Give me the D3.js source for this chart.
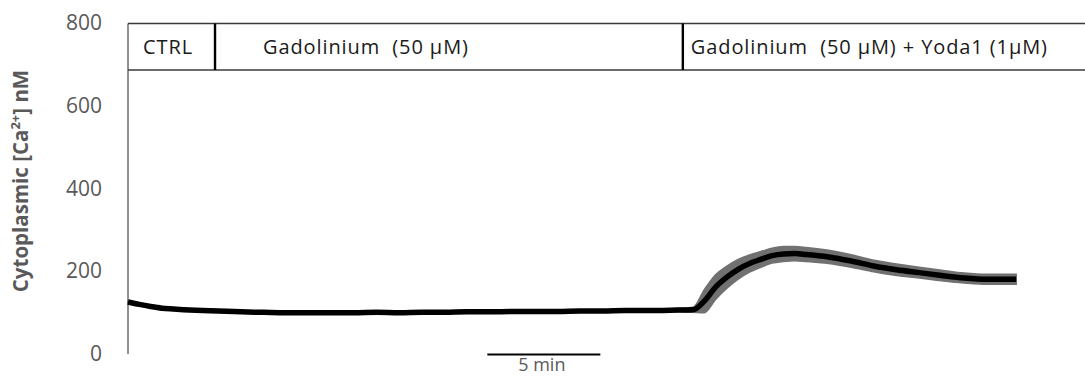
<!DOCTYPE html>
<html>
<head>
<meta charset="utf-8">
<script src="https://cdn.jsdelivr.net/npm/d3@7/dist/d3.min.js"></script>
<style>
  body { margin: 0; background: #fff; }
  svg { display: block; font-family: "Open Sans", sans-serif; }
</style>
</head>
<body>
<svg id="chart" width="1085" height="376"></svg>
<script>
// Recording time (min) and mean cytoplasmic Ca2+ (nM) with its SEM
const timeMin = [0, 0.5, 1, 1.5, 2, 3, 4, 5, 6, 7, 8, 9, 10, 11, 12, 13, 14, 15, 16,
  17, 18, 19, 20, 21, 22, 23, 24, 25, 25.5, 26, 26.5, 27, 27.5, 28, 28.5, 29, 29.5,
  30, 31, 32, 33, 34, 35, 36, 37, 38, 39, 39.3];
const calcium = [126, 120, 115, 111, 109, 106, 104, 102, 101, 100, 100, 100, 100, 101, 100, 101, 101, 102, 102,
  103, 103, 103, 104, 104, 105, 105, 106, 107, 128, 162, 186, 205, 219, 229, 238, 242, 243,
  241, 235, 225, 213, 204, 197, 190, 184, 181, 181, 181];
const calciumSem = [3, 3, 3, 3, 3, 3, 3, 3, 3, 3, 3, 3, 3, 3, 3, 3, 3, 3, 3,
  3, 3, 3, 3, 3, 3, 3, 3, 6, 28, 30, 27, 24, 21, 19, 18, 18, 17,
  17, 16, 15, 14, 14, 13, 13, 12, 12, 12, 12];

// Treatment periods (start time in min)
const phaseLabels = ["CTRL", "Gadolinium\u00a0\u00a0(50 \u00b5M)", "Gadolinium\u00a0\u00a0(50 \u00b5M) + Yoda1 (1\u00b5M)"];
const phaseStart = [0, 3.85, 24.55];

const yTicks = [0, 200, 400, 600, 800];
const scaleBarStart = 15.9;
const scaleBarLength = 5;   // min

const svg = d3.select("#chart");
const W = 1085;

const x = d3.scaleLinear().domain([0, 42.3]).range([128, 1084]);
const y = d3.scaleLinear().domain([0, 800]).range([354, 23.5]);

const grey = "#595959";

// y axis: line plus labels, no tick marks
svg.append("line")
  .attr("x1", x(0)).attr("x2", x(0))
  .attr("y1", y(0)).attr("y2", y(800))
  .attr("stroke", "#222").attr("stroke-width", 1);

svg.append("g").selectAll("text").data(yTicks).join("text")
  .attr("x", 102)
  .attr("y", d => y(d))
  .attr("dy", "0.33em")
  .attr("text-anchor", "end")
  .attr("font-size", 21)
  .attr("fill", grey)
  .text(d => d);

// y axis title
const yt = svg.append("text")
  .attr("transform", "translate(28,181) rotate(-90)")
  .attr("text-anchor", "middle")
  .attr("font-size", 20.5)
  .attr("font-weight", "bold")
  .attr("fill", grey);
yt.append("tspan").text("Cytoplasmic [Ca");
yt.append("tspan").attr("font-size", 13).attr("dy", -8).text("2+");
yt.append("tspan").attr("dy", 8).text("] nM");

// treatment header band
const bandTop = y(800), bandBottom = 70;
svg.append("g").selectAll("line").data([bandTop, bandBottom]).join("line")
  .attr("x1", x(0)).attr("x2", W)
  .attr("y1", d => d).attr("y2", d => d)
  .attr("stroke", "#3a3a3a").attr("stroke-width", 1.6);

svg.append("g").selectAll("line").data(phaseStart.slice(1)).join("line")
  .attr("x1", d => x(d)).attr("x2", d => x(d))
  .attr("y1", bandTop).attr("y2", bandBottom)
  .attr("stroke", "#000").attr("stroke-width", 2.4);

const labelPad = [15, 48, 8];
svg.append("g").selectAll("text").data(phaseLabels).join("text")
  .attr("x", (d, i) => x(phaseStart[i]) + labelPad[i])
  .attr("y", 54)
  .attr("font-size", 20)
  .attr("letter-spacing", 0.9)
  .attr("fill", "#1a1a1a")
  .style("white-space", "pre")
  .text(d => d);

// SEM band and mean trace
const pts = timeMin.map((t, i) => ({ t, v: calcium[i], s: calciumSem[i] }));

svg.append("path")
  .datum(pts)
  .attr("fill", "#717171")
  .attr("stroke", "#717171")
  .attr("stroke-width", 1.5)
  .attr("d", d3.area()
    .x(d => x(d.t))
    .y0(d => y(d.v - d.s))
    .y1(d => y(d.v + d.s))
    .curve(d3.curveMonotoneX));

svg.append("path")
  .datum(pts)
  .attr("fill", "none")
  .attr("stroke", "#000")
  .attr("stroke-width", 5.5)
  .attr("d", d3.line()
    .x(d => x(d.t))
    .y(d => y(d.v))
    .curve(d3.curveMonotoneX));

// time scale bar
svg.append("line")
  .attr("x1", x(scaleBarStart)).attr("x2", x(scaleBarStart + scaleBarLength))
  .attr("y1", 354.5).attr("y2", 354.5)
  .attr("stroke", "#000").attr("stroke-width", 2.2);

svg.append("text")
  .attr("x", x(scaleBarStart + scaleBarLength / 2) - 2)
  .attr("y", 371)
  .attr("text-anchor", "middle")
  .attr("font-size", 18)
  .attr("fill", grey)
  .text(scaleBarLength + " min");
</script>
</body>
</html>
